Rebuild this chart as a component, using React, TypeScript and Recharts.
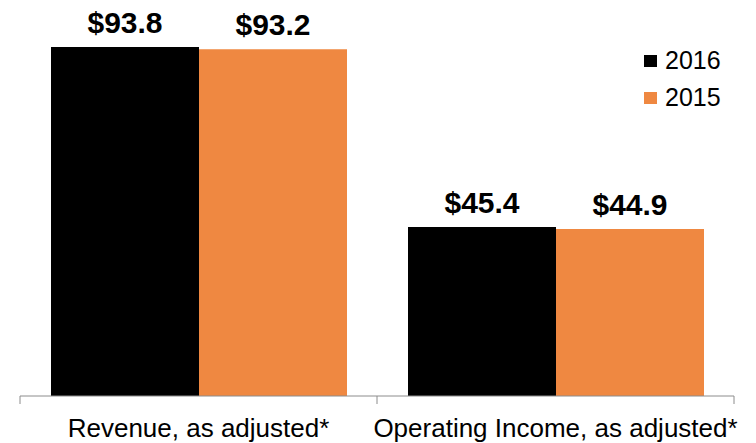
import { BarChart, Bar, XAxis, YAxis, LabelList } from 'recharts';

// Values (in $ millions)
const categories = ['Revenue, as adjusted*', 'Operating Income, as adjusted*'];
const values2016 = [93.8, 45.4];
const values2015 = [93.2, 44.9];
const yDomain = [0, 100];

const COLORS = {
    y2016: '#000000',
    y2015: '#EF8841',
    axis: '#8C8C8C'
} as const;

const FONT = '"Liberation Sans", Arial, sans-serif';

const series = [
    { key: 'v2016', name: '2016', color: COLORS.y2016 },
    { key: 'v2015', name: '2015', color: COLORS.y2015 }
];

const data = categories.map((name, i) => ({
    name,
    v2016: values2016[i],
    v2015: values2015[i]
}));

// Category label plus tick marks at the band edges (not centre)
function CategoryTick(props: any) {
    const { x, y, payload, index, width } = props;
    const half = width / (2 * categories.length);
    const isLast = index === categories.length - 1;
    return (
        <g>
            <line x1={x - half} x2={x - half} y1={y} y2={y + 8} stroke={COLORS.axis} />
            {isLast && <line x1={x + half} x2={x + half} y1={y} y2={y + 8} stroke={COLORS.axis} />}
            <text x={x} y={y + 41} textAnchor="middle" fontSize={26} fontFamily={FONT} fill="#000">
                {payload.value}
            </text>
        </g>
    );
}

export default function App() {
    return (
        <div style={{ position: 'absolute', left: 0, top: 0, width: 756, height: 443, background: '#fff' }}>
            <BarChart
                width={756}
                height={443}
                data={data}
                margin={{ top: 24, right: 22, left: 20, bottom: 0 }}
                barCategoryGap={31}
                barGap={0}
            >
                <XAxis
                    dataKey="name"
                    height={47}
                    axisLine={{ stroke: COLORS.axis }}
                    tickLine={false}
                    tickSize={0}
                    tickMargin={0}
                    interval={0}
                    tick={<CategoryTick />}
                />
                <YAxis hide domain={yDomain} />
                {series.map((s) => (
                    <Bar key={s.key} dataKey={s.key} name={s.name} fill={s.color} isAnimationActive={false}>
                        <LabelList
                            dataKey={s.key}
                            position="top"
                            offset={14}
                            formatter={(v: any) => `$${Number(v).toFixed(1)}`}
                            style={{ fontSize: 30, fontWeight: 'bold', fontFamily: FONT, fill: '#000' }}
                        />
                    </Bar>
                ))}
            </BarChart>

            {/* Legend, top right */}
            <div style={{ position: 'absolute', left: 644, top: 42, fontFamily: FONT }}>
                {series.map((s) => (
                    <div key={s.key} style={{ display: 'flex', alignItems: 'center', height: 37 }}>
                        <span style={{ width: 13, height: 12, background: s.color, marginRight: 8 }} />
                        <span style={{ fontSize: 25, color: '#000' }}>{s.name}</span>
                    </div>
                ))}
            </div>
        </div>
    );
}
